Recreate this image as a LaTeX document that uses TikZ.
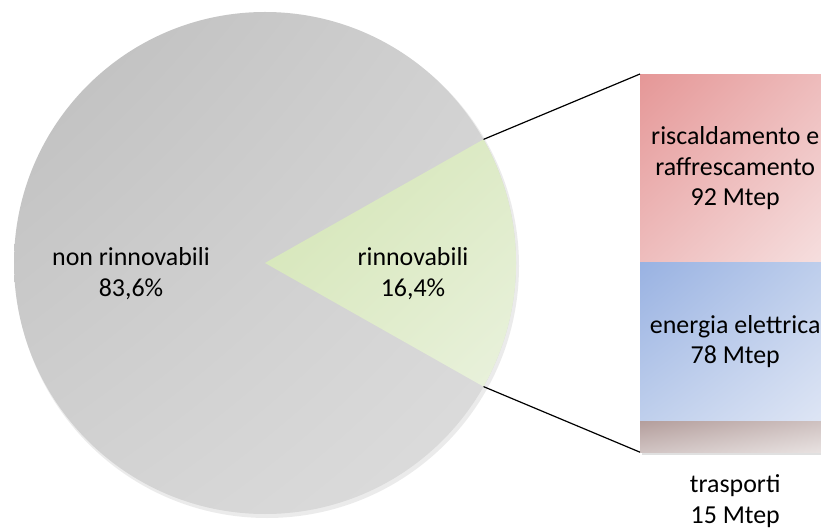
\documentclass[tikz,border=0pt]{standalone}
\usepackage{fontspec}
\setmainfont{Carlito}
\usetikzlibrary{positioning, shadings}

\definecolor{pieA}{HTML}{BDBDBD}
\definecolor{pieB}{HTML}{DEDEDE}
\definecolor{pieM}{HTML}{D2D2D2}
\definecolor{renA}{HTML}{D2E4B2}
\definecolor{renB}{HTML}{EAF2DE}
\definecolor{renM}{HTML}{DEEBC8}
\definecolor{heatA}{HTML}{E59797}
\definecolor{heatB}{HTML}{F6E0E0}
\definecolor{heatM}{HTML}{EEBDBD}
\definecolor{elecA}{HTML}{99B2E2}
\definecolor{elecB}{HTML}{DFE6F5}
\definecolor{elecM}{HTML}{BFCFEC}
\definecolor{transA}{HTML}{B49E9C}
\definecolor{transB}{HTML}{E9E3E2}
\definecolor{transM}{HTML}{D0C3C2}

\tikzset{
every node/.style={font=\fontsize{26}{31}\selectfont, text=black},
block/.style={shade, rectangle, inner sep=0pt, minimum width=190bp, align=center},
link/.style={draw=black, line width=1.2bp},
}

\begin{document}
\begin{tikzpicture}[x=1bp, y=-1bp]
    \useasboundingbox (0,0) rectangle (821,531);
    \clip (0,0) rectangle (821,531);

    %pie
    \coordinate (pie) at (265,263);
    \fill[black, opacity=0.08] (267,266) circle[radius=252];
    \shade[upper left=pieA, upper right=pieM, lower left=pieM, lower right=pieB]
        (pie) circle[radius=251];
    \shade[upper left=renA, upper right=renM, lower left=renM, lower right=renB]
        (pie) -- ++(218.5,-123.6) arc[start angle=-29.5, end angle=29.5, radius=251] -- cycle;
    \coordinate (top) at (483.5,139.4);
    \coordinate (bot) at (483.5,386.6);

    \node[align=center] (nonren) at (131,274) {non rinnovabili\\83,6\%};
    \node[align=center] (ren) at (413,274) {rinnovabili\\16,4\%};

    %bar of renewables
    \fill[black, opacity=0.12] (642,76) rectangle (834,455);
    \node[block, minimum height=188bp, anchor=north west,
          upper left=heatA, upper right=heatM, lower left=heatM, lower right=heatB]
        (heat) at (640,74) {riscaldamento e\\raffrescamento\\92 Mtep};
    \node[block, minimum height=158bp, below=0pt of heat,
          upper left=elecA, upper right=elecM, lower left=elecM, lower right=elecB]
        (elec) {energia elettrica\\78 Mtep};
    \node[block, minimum height=31bp, below=0pt of elec,
          upper left=transA, upper right=transM, lower left=transM, lower right=transB]
        (trans) {};
    \node[align=center, below=19bp of trans] (translab) {trasporti\\15 Mtep};

    % connectors
    \draw[link] (top) -- (heat.north west);
    \draw[link] (bot) -- (trans.south west);

\end{tikzpicture}
\end{document}
